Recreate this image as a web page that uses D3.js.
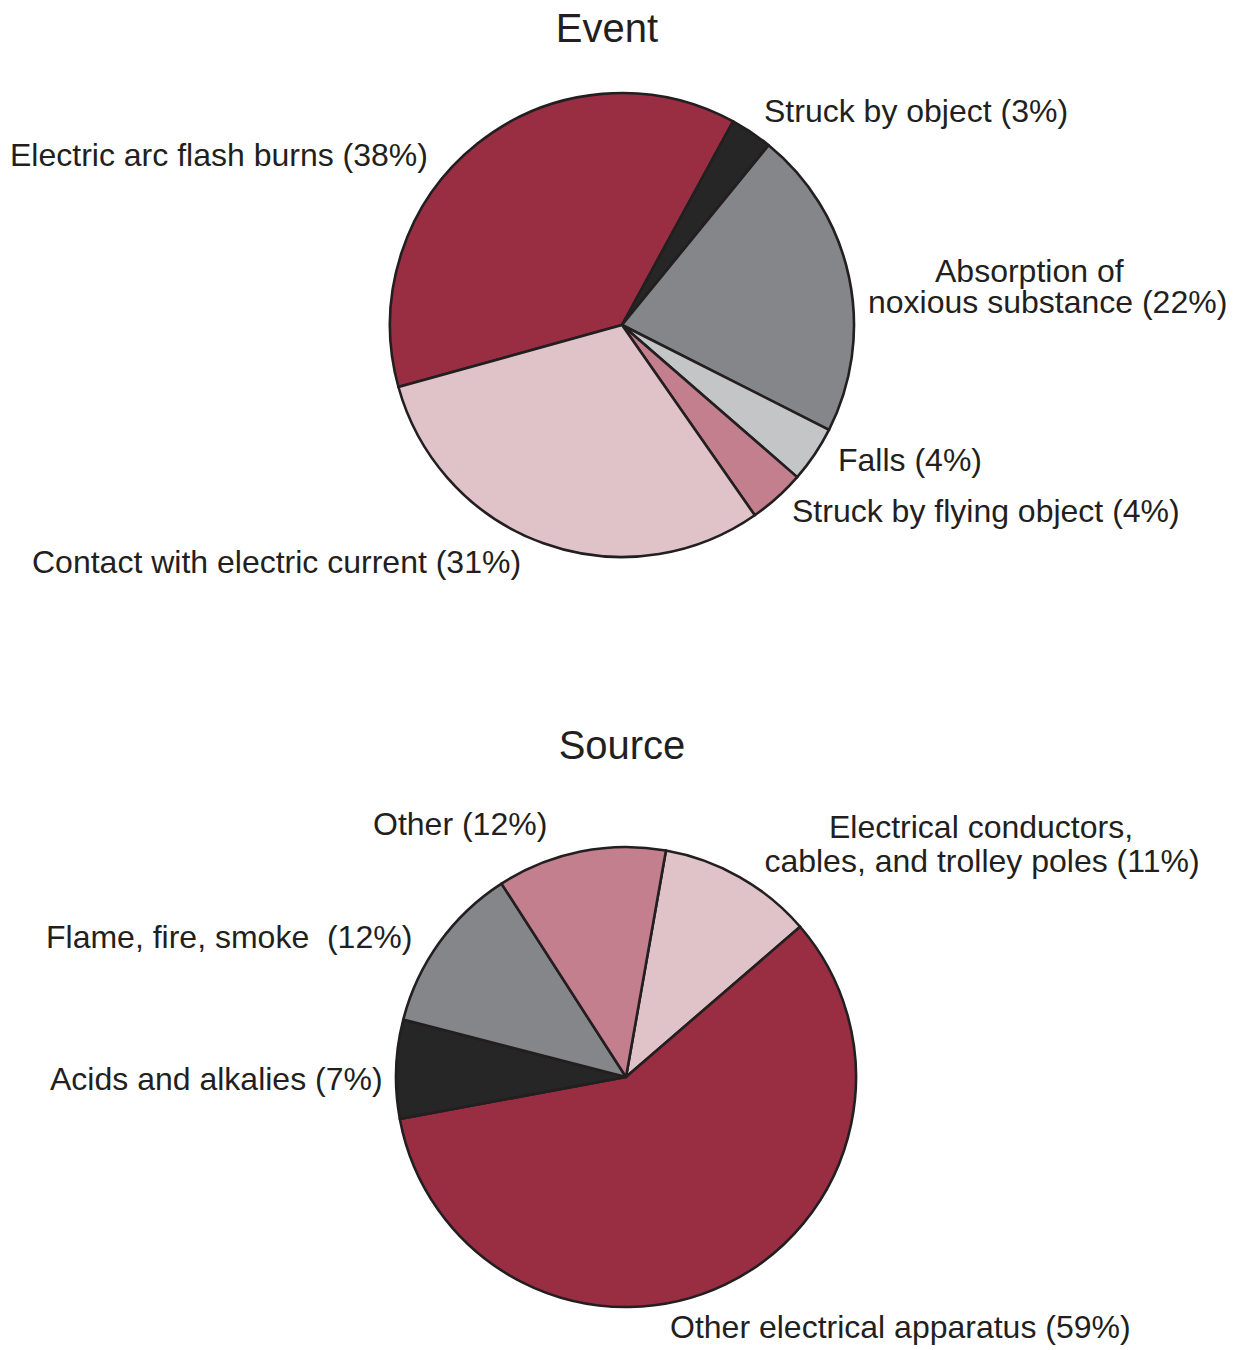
<!DOCTYPE html>
<html>
<head>
<meta charset="utf-8">
<script src="https://cdn.jsdelivr.net/npm/d3@7"></script>
<style>
  html, body { margin: 0; padding: 0; background: #ffffff; }
  svg { display: block; }
  text { font-family: "Liberation Sans", Arial, Helvetica, sans-serif; fill: #231f20; }
</style>
</head>
<body>
<svg id="chart" width="1241" height="1350"></svg>
<script>
// ---------- Data ----------
const eventTitle = "Event";
const eventCategories = [
  "Electric arc flash burns",
  "Struck by object",
  "Absorption of noxious substance",
  "Falls",
  "Struck by flying object",
  "Contact with electric current"
];
const eventValues = [38, 3, 22, 4, 4, 31];
const eventLabels = [
  ["Electric arc flash burns (38%)"],
  ["Struck by object (3%)"],
  ["Absorption of", "noxious substance (22%)"],
  ["Falls (4%)"],
  ["Struck by flying object (4%)"],
  ["Contact with electric current (31%)"]
];

const sourceTitle = "Source";
const sourceCategories = [
  "Electrical conductors, cables, and trolley poles",
  "Other electrical apparatus",
  "Acids and alkalies",
  "Flame, fire, smoke",
  "Other"
];
const sourceValues = [11, 59, 7, 12, 12];
const sourceLabels = [
  ["Electrical conductors,", "cables, and trolley poles (11%)"],
  ["Other electrical apparatus (59%)"],
  ["Acids and alkalies (7%)"],
  ["Flame, fire, smoke\u00a0 (12%)"],
  ["Other (12%)"]
];

// ---------- Styles ----------
const C_RED = "#992e43", C_BLACK = "#262626", C_GRAY = "#858689",
      C_LGRAY = "#c4c5c7", C_PINK = "#c47f8f", C_LPINK = "#e0c3c8";
const eventColors = [C_RED, C_BLACK, C_GRAY, C_LGRAY, C_PINK, C_LPINK];
const sourceColors = [C_LPINK, C_RED, C_BLACK, C_GRAY, C_PINK];

// ---------- Layout ----------
const eventLayout = {
  cx: 622, cy: 325, r: 232, startDeg: -105.5,
  title: { x: 607, y: 42 },
  labels: [
    [{ x: 10, y: 166 }],
    [{ x: 764, y: 122 }],
    [{ x: 935, y: 282 }, { x: 868, y: 313 }],
    [{ x: 838, y: 471 }],
    [{ x: 792, y: 522 }],
    [{ x: 32, y: 573 }]
  ]
};
const sourceLayout = {
  cx: 626, cy: 1077, r: 230, startDeg: 10,
  title: { x: 622, y: 759 },
  labels: [
    [{ x: 981, y: 838, anchor: "middle" }, { x: 982, y: 872, anchor: "middle" }],
    [{ x: 670, y: 1338 }],
    [{ x: 50, y: 1090 }],
    [{ x: 46, y: 948 }],
    [{ x: 373, y: 835 }]
  ]
};

const svg = d3.select("#chart");

function drawPie(title, categories, values, labels, colors, layout) {
  const g = svg.append("g");
  const data = categories.map((c, i) => ({ category: c, value: values[i], color: colors[i], label: labels[i], idx: i }));
  const start = layout.startDeg * Math.PI / 180;
  const pie = d3.pie().sort(null).value(d => d.value)
    .startAngle(start).endAngle(start + 2 * Math.PI);
  const arc = d3.arc().innerRadius(0).outerRadius(layout.r);

  g.append("g").attr("transform", `translate(${layout.cx},${layout.cy})`)
    .selectAll("path").data(pie(data)).join("path")
    .attr("d", arc)
    .attr("fill", d => d.data.color)
    .attr("stroke", "#231f20")
    .attr("stroke-width", 2.6)
    .attr("stroke-linejoin", "round");

  g.append("text")
    .attr("x", layout.title.x).attr("y", layout.title.y)
    .attr("text-anchor", "middle")
    .attr("font-size", 40)
    .text(title);

  data.forEach((d, i) => {
    const t = g.append("text")
      .attr("font-size", 32)
      .attr("text-anchor", layout.labels[i][0].anchor || "start");
    d.label.forEach((line, j) => {
      const p = layout.labels[i][j];
      t.append("tspan")
        .attr("x", p.x).attr("y", p.y)
        .text(line);
    });
  });
}

drawPie(eventTitle, eventCategories, eventValues, eventLabels, eventColors, eventLayout);
drawPie(sourceTitle, sourceCategories, sourceValues, sourceLabels, sourceColors, sourceLayout);
</script>
</body>
</html>
